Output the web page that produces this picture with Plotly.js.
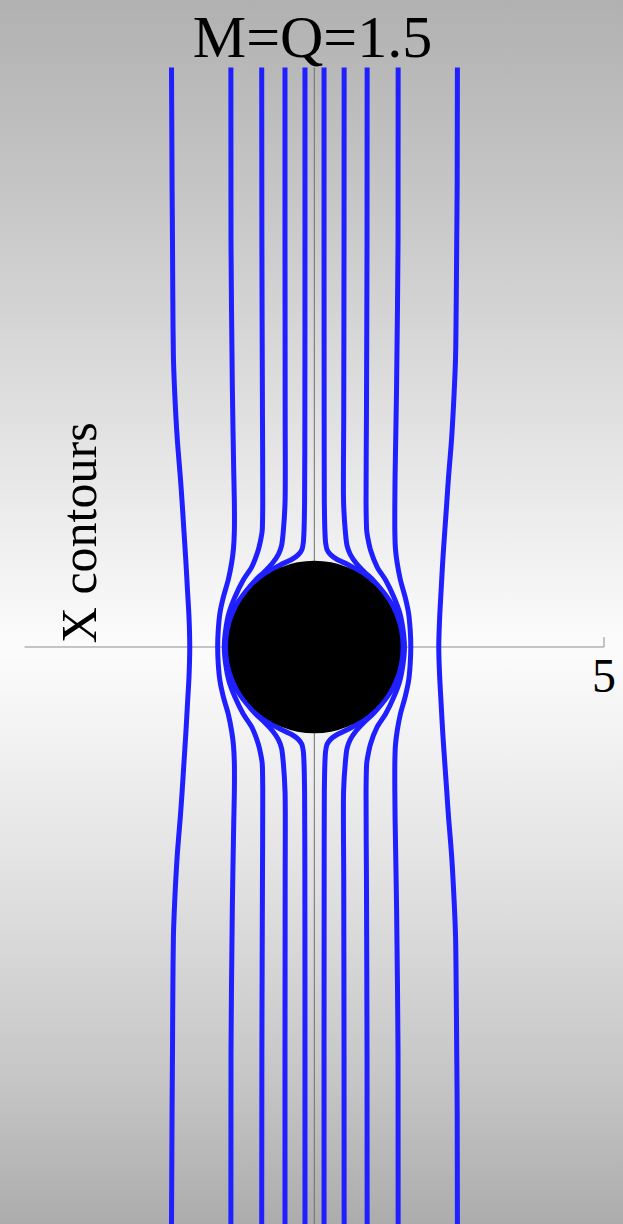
<!DOCTYPE html>
<html>
<head>
<meta charset="utf-8">
<script src="https://cdn.plot.ly/plotly-3.0.1.min.js"></script>
<style>
  html, body { margin: 0; padding: 0; }
  #chart {
    width: 623px; height: 1224px;
    background: linear-gradient(to bottom, #b1b1b1 0%, #c9c9c9 18%, #e6e6e6 38%, #fcfcfc 53%, #e4e4e4 70%, #c6c6c6 88%, #acacac 100%);
  }
</style>
</head>
<body>
<div id="chart"></div>
<script>
// Field-line contours around the horizon, left to right (x, y in units of length)
const l1y = [10, 8, 7, 6, 5, 4.4, 3.6, 2.9, 2.5, 2, 1.5, 1, 0.5, 0, -0.5, -1, -1.5, -2, -2.5, -2.9, -3.6, -4.4, -5, -6, -7, -8, -10];
const l1x = [-2.465, -2.455, -2.448, -2.442, -2.432, -2.41, -2.366, -2.31, -2.282, -2.25, -2.218, -2.19, -2.162, -2.15, -2.162, -2.19, -2.218, -2.25, -2.282, -2.31, -2.366, -2.41, -2.432, -2.442, -2.448, -2.455, -2.465];

const l2y = [10, 7, 4.5, 3, 2.5, 2, 1.7, 1.45, 1.16, 0.86, 0.59, 0.29, 0, -0.29, -0.59, -0.86, -1.16, -1.45, -1.7, -2, -2.5, -3, -4.5, -7, -10];
const l2x = [-1.44, -1.438, -1.415, -1.39, -1.38, -1.38, -1.395, -1.427, -1.485, -1.57, -1.628, -1.658, -1.668, -1.658, -1.628, -1.57, -1.485, -1.427, -1.395, -1.38, -1.38, -1.39, -1.415, -1.438, -1.44];

const l3y = [10, 7, 4, 2.5, 2, 1.85, 1.675, 1.38, 1.157, 0.864, 0.587, 0.294, 0, -0.294, -0.587, -0.864, -1.157, -1.38, -1.675, -1.85, -2, -2.5, -4, -7, -10];
const l3x = [-0.908, -0.905, -0.895, -0.89, -0.9, -0.925, -0.967, -1.081, -1.226, -1.37, -1.473, -1.53, -1.554, -1.53, -1.473, -1.37, -1.226, -1.081, -0.967, -0.925, -0.9, -0.89, -0.895, -0.905, -0.908];

const l4y = [10, 7, 4, 2.5, 2, 1.75, 1.6, 1.45, 1.3, 1.15, 0.95, 0.75, 0.5, 0.25, 0, -0.25, -0.5, -0.75, -0.95, -1.15, -1.3, -1.45, -1.6, -1.75, -2, -2.5, -4, -7, -10];
const l4x = [-0.506, -0.506, -0.503, -0.505, -0.535, -0.565, -0.62, -0.72, -0.86, -1.02, -1.19, -1.33, -1.45, -1.51, -1.53, -1.51, -1.45, -1.33, -1.19, -1.02, -0.86, -0.72, -0.62, -0.565, -0.535, -0.505, -0.503, -0.506, -0.506];

const l5y = [10, 7, 4, 2.5, 2, 1.8, 1.68, 1.59, 1.51, 1.42, 1.25, 1, 0.75, 0.5, 0.25, 0, -0.25, -0.5, -0.75, -1, -1.25, -1.42, -1.51, -1.59, -1.68, -1.8, -2, -2.5, -4, -7, -10];
const l5x = [-0.161, -0.161, -0.163, -0.168, -0.178, -0.19, -0.215, -0.28, -0.39, -0.58, -0.856, -1.138, -1.316, -1.43, -1.494, -1.515, -1.494, -1.43, -1.316, -1.138, -0.856, -0.58, -0.39, -0.28, -0.215, -0.19, -0.178, -0.168, -0.163, -0.161, -0.161];

const l6y = l5y;
const l6x = [0.168, 0.168, 0.17, 0.173, 0.183, 0.195, 0.22, 0.285, 0.395, 0.585, 0.86, 1.14, 1.318, 1.432, 1.495, 1.515, 1.495, 1.432, 1.318, 1.14, 0.86, 0.585, 0.395, 0.285, 0.22, 0.195, 0.183, 0.173, 0.17, 0.168, 0.168];

const l7y = l4y;
const l7x = [0.515, 0.513, 0.508, 0.505, 0.535, 0.565, 0.62, 0.72, 0.86, 1.02, 1.19, 1.33, 1.45, 1.51, 1.53, 1.51, 1.45, 1.33, 1.19, 1.02, 0.86, 0.72, 0.62, 0.565, 0.535, 0.505, 0.508, 0.513, 0.515];

const l8y = l3y;
const l8x = [0.912, 0.91, 0.9, 0.893, 0.905, 0.93, 0.97, 1.085, 1.23, 1.372, 1.475, 1.532, 1.556, 1.532, 1.475, 1.372, 1.23, 1.085, 0.97, 0.93, 0.905, 0.893, 0.9, 0.91, 0.912];

const l9y = l2y;
const l9x = [1.447, 1.445, 1.42, 1.395, 1.39, 1.39, 1.4, 1.43, 1.485, 1.568, 1.626, 1.655, 1.665, 1.655, 1.626, 1.568, 1.485, 1.43, 1.4, 1.39, 1.39, 1.395, 1.42, 1.445, 1.447];

const l10y = l1y;
const l10x = [2.47, 2.466, 2.458, 2.45, 2.438, 2.414, 2.37, 2.314, 2.287, 2.252, 2.218, 2.19, 2.163, 2.148, 2.163, 2.19, 2.218, 2.252, 2.287, 2.314, 2.37, 2.414, 2.438, 2.45, 2.458, 2.466, 2.47];

const horizonRadius = 1.49;
const axisHalfLength = 10;
const tickValues = [5];
const tickLabels = ['5'];

const contours = [
  [l1x, l1y], [l2x, l2y], [l3x, l3y], [l4x, l4y], [l5x, l5y],
  [l6x, l6y], [l7x, l7y], [l8x, l8y], [l9x, l9y], [l10x, l10y]
];

const traces = contours.map(([xs, ys]) => ({
  type: 'scatter',
  mode: 'lines',
  x: xs,
  y: ys,
  line: { color: '#1f1fff', width: 5, shape: 'spline', smoothing: 0.8 },
  hoverinfo: 'skip',
  showlegend: false
}));

const shapes = [
  // vertical axis
  { type: 'line', xref: 'x', yref: 'y', x0: 0, x1: 0, y0: -axisHalfLength, y1: axisHalfLength,
    line: { color: '#6e6e6e', width: 1 }, layer: 'below' },
  // horizontal axis
  { type: 'line', xref: 'x', yref: 'y', x0: -tickValues[0], x1: tickValues[0], y0: 0, y1: 0,
    line: { color: '#8c8c8c', width: 1 }, layer: 'below' },
  // tick mark
  { type: 'line', xref: 'x', yref: 'y', x0: tickValues[0], x1: tickValues[0], y0: 0, y1: 0.17,
    line: { color: '#8c8c8c', width: 1 }, layer: 'below' },
  // horizon
  { type: 'circle', xref: 'x', yref: 'y',
    x0: -horizonRadius, x1: horizonRadius, y0: -horizonRadius, y1: horizonRadius,
    fillcolor: '#000000', line: { color: '#000000', width: 0 }, layer: 'above' }
];

const annotations = [
  { text: 'X contours', xref: 'paper', yref: 'paper', x: 0.128, y: 0.565,
    xanchor: 'center', yanchor: 'middle', textangle: -90, showarrow: false,
    font: { family: 'Liberation Serif', size: 50, color: '#000' } },
  { text: tickLabels[0], xref: 'x', yref: 'y', x: tickValues[0], y: 0,
    xanchor: 'center', yanchor: 'top', showarrow: false,
    font: { family: 'Liberation Serif', size: 48, color: '#000' } }
];

const layout = {
  width: 623,
  height: 1224,
  margin: { l: 0, r: 0, t: 0, b: 0, pad: 0 },
  paper_bgcolor: 'rgba(0,0,0,0)',
  plot_bgcolor: 'rgba(0,0,0,0)',
  title: {
    text: 'M=Q=1.5',
    font: { family: 'Liberation Serif', size: 60, color: '#000' },
    x: 0.5016, xanchor: 'center',
    y: 0.9706, yanchor: 'middle', yref: 'container'
  },
  xaxis: { range: [-5.425, 5.328], visible: false, fixedrange: true },
  yaxis: { range: [-9.959, 11.167], visible: false, fixedrange: true },
  shapes: shapes,
  annotations: annotations,
  showlegend: false
};

Plotly.newPlot('chart', traces, layout, { staticPlot: true, displayModeBar: false });
</script>
</body>
</html>
